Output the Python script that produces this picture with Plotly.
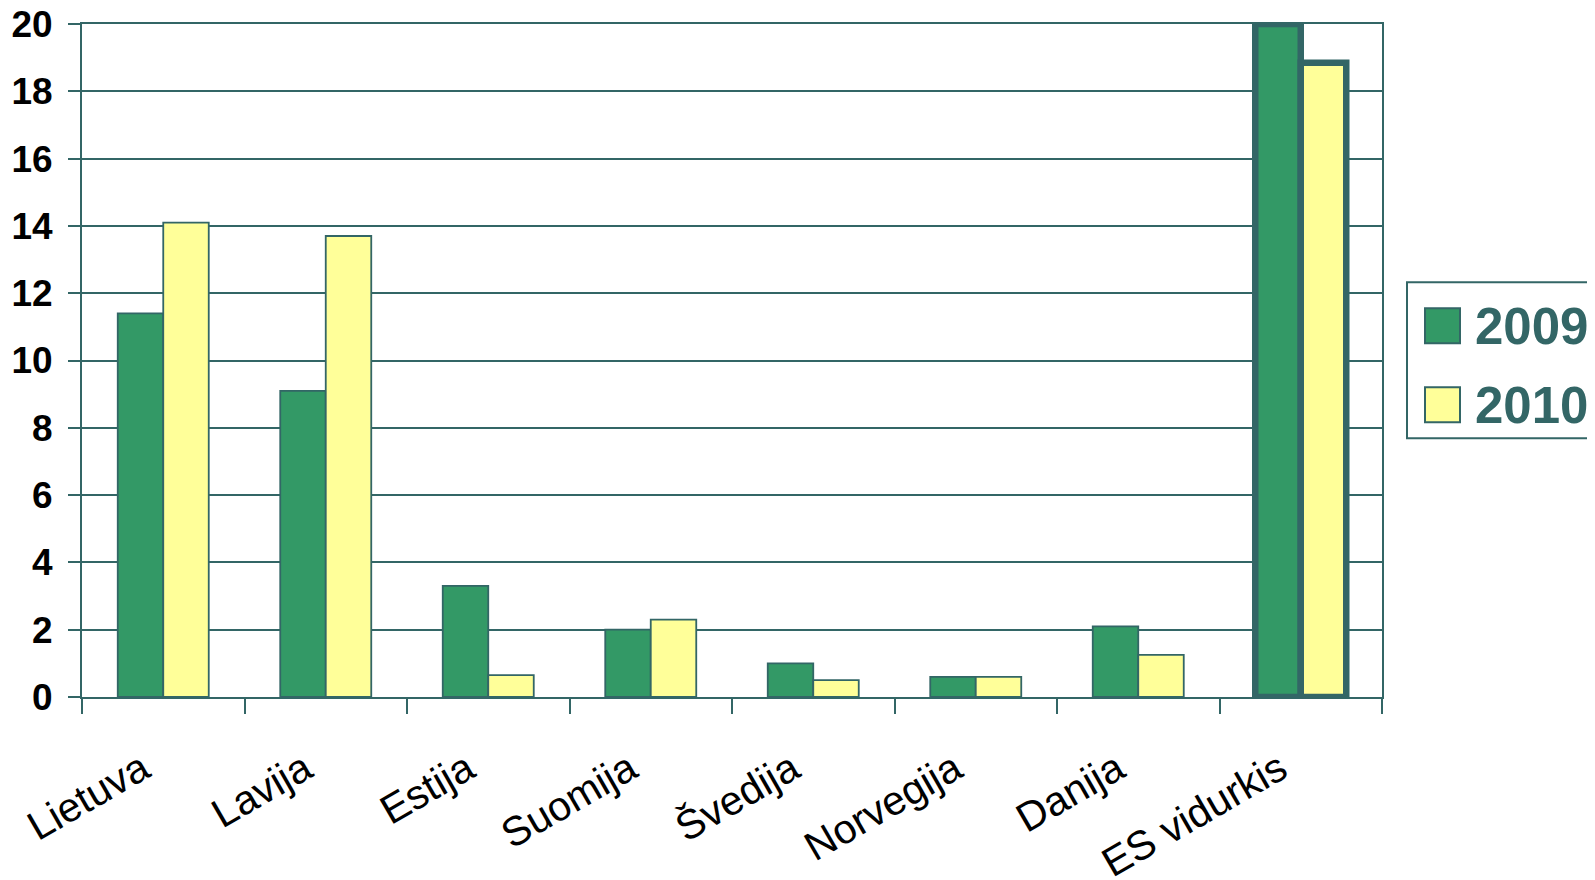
import plotly.graph_objects as go

categories = ["Lietuva", "Lavija", "Estija", "Suomija", "Švedija", "Norvegija", "Danija", "ES vidurkis"]
values_2009 = [11.4, 9.1, 3.3, 2.0, 1.0, 0.6, 2.1, 20.0]
values_2010 = [14.1, 13.7, 0.65, 2.3, 0.5, 0.6, 1.25, 18.85]
series_names = ["2009", "2010"]
y_ticks = [0, 2, 4, 6, 8, 10, 12, 14, 16, 18, 20]

GREEN = "#339966"
YELLOW = "#FFFF99"
TEAL = "#336666"
FONT = "Liberation Sans, Arial, sans-serif"

line_widths = [1.8] * (len(categories) - 1) + [6.5]

fig = go.Figure()
fig.add_trace(go.Bar(x=categories, y=values_2009, name=series_names[0],
                     marker=dict(color=GREEN, line=dict(color=TEAL, width=line_widths)),
                     showlegend=False))
fig.add_trace(go.Bar(x=categories, y=values_2010, name=series_names[1],
                     marker=dict(color=YELLOW, line=dict(color=TEAL, width=line_widths)),
                     showlegend=False))

# page body has an 8px margin; compensate so plot area lands at x 82..1382, y 24..697
fig.update_layout(
    width=1587, height=872,
    margin=dict(l=74, r=213, t=16, b=183, pad=0, autoexpand=False),
    paper_bgcolor="white", plot_bgcolor="white",
    barmode="group", bargap=0.44, bargroupgap=0,
    showlegend=False,
)
fig.update_yaxes(
    range=[0, 20], tickvals=y_ticks, automargin=False,
    showgrid=True, gridcolor=TEAL, gridwidth=2,
    showline=True, linecolor=TEAL, linewidth=2, mirror=True,
    zeroline=False,
    ticks="outside", ticklen=12, tickcolor=TEAL, tickwidth=2,
    ticklabelstandoff=8, ticklabeloverflow="allow",
    tickfont=dict(family=FONT, size=37, color="black", weight="bold"),
)
fig.update_xaxes(
    showgrid=False, automargin=False,
    showline=True, linecolor=TEAL, linewidth=2, mirror=True,
    ticks="outside", tickson="boundaries", ticklen=15, tickcolor=TEAL, tickwidth=2,
    tickangle=-30, ticklabelstandoff=30, ticklabelshift=-21, ticklabeloverflow="allow",
    tickfont=dict(family=FONT, size=41, color="black"),
)

# Legend drawn manually (large swatches)
def px_x(px):
    return (px - 82) / 1300.0

def px_y(py):
    return (696.7 - py) / 673.0

fig.add_shape(type="rect", xref="paper", yref="paper",
              x0=px_x(1407), x1=px_x(1610), y0=px_y(438), y1=px_y(282),
              line=dict(color=TEAL, width=2), fillcolor="white", layer="below")
swatches = [(GREEN, 308, 343, 326), (YELLOW, 387, 422, 405)]
for name, (col, top, bot, mid) in zip(series_names, swatches):
    fig.add_shape(type="rect", xref="paper", yref="paper",
                  x0=px_x(1425), x1=px_x(1460), y0=px_y(bot), y1=px_y(top),
                  line=dict(color=TEAL, width=2), fillcolor=col)
    fig.add_annotation(xref="paper", yref="paper", x=px_x(1473), y=px_y(mid),
                       xanchor="left", yanchor="middle", showarrow=False,
                       text=name, font=dict(family=FONT, size=51, color=TEAL, weight="bold"))

fig.write_html("out.html")
